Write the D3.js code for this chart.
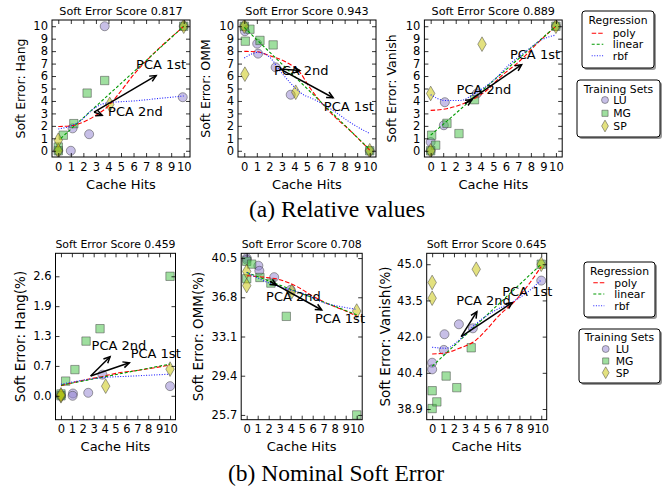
<!DOCTYPE html>
<html>
<head>
<meta charset="utf-8">
<script src="https://cdn.jsdelivr.net/npm/d3@7"></script>
<style>
  body { margin: 0; background: #fff; }
  svg { display: block; }
  text { font-family: "DejaVu Sans", sans-serif; fill: #000; }
  .caption { font-family: "Liberation Serif", "Times New Roman", serif; }
</style>
</head>
<body>
<svg id="fig" width="664" height="488"></svg>
<script>
// ---------- shared axis data ----------
const cacheHitTicks = [0, 1, 2, 3, 4, 5, 6, 7, 8, 9, 10];
const relTicks = [0, 1, 2, 3, 4, 5, 6, 7, 8, 9, 10];
const hangPctTicks = [0, 0.65, 1.3, 1.95, 2.6];
const hangPctLabels = ["0.0", "0.7", "1.3", "1.9", "2.6"];
const ommPctTicks = [25.7, 29.4, 33.1, 36.8, 40.5];
const ommPctLabels = ["25.7", "29.4", "33.1", "36.8", "40.5"];
const vanPctTicks = [38.9, 40.425, 41.95, 43.475, 45.0];
const vanPctLabels = ["38.9", "40.4", "42.0", "43.5", "45.0"];

const scores = ["0.817", "0.943", "0.889", "0.459", "0.708", "0.645"];
const yNames = ["Hang", "OMM", "Vanish", "Hang(%)", "OMM(%)", "Vanish(%)"];

// ---------- (a) relative values: training points [cache hits, soft error] ----------
const hangLU = [[3.7, 10], [9.92, 4.3], [2.46, 1.33], [1.14, 1.8], [1.0, 0], [0, 0], [10, 10]];
const hangMG = [[3.7, 5.64], [2.3, 4.63], [1.24, 2.18], [0.4, 1.25], [0, 0.3], [0, 0], [10, 10]];
const hangSP = [[4.1, 3.72], [0, 0.85], [0, 0], [10, 10]];

const ommLU = [[0.05, 9.6], [1.03, 8.6], [1.1, 7.8], [3.7, 4.5], [2.5, 6.7], [0, 10], [10, 0]];
const ommMG = [[0.45, 9.76], [0.08, 8.8], [1.25, 8.86], [2.3, 8.5], [0, 10], [10, 0]];
const ommSP = [[0.05, 6.15], [4.1, 4.7], [0, 10], [10, 0]];

const vanLU = [[0, 0.7], [1.13, 3.9], [1.05, 2.05], [3.7, 4.6], [0, 0], [10, 10]];
const vanMG = [[0.08, 1.25], [0.4, 0.45], [1.3, 2.2], [2.26, 1.38], [3.5, 4.1], [0, 0], [10, 10]];
const vanSP = [[0, 4.6], [4.1, 8.56], [0, 0], [10, 10]];

// ---------- (a) regression fits ----------
const hangPoly = [[0, 1.95], [1, 2.0], [2, 2.3], [3, 2.85], [4, 3.6], [5, 4.8], [6, 6.1], [7, 7.2], [8, 8.2], [9, 9.1], [10, 10]];
const hangLinear = [[0.2, 1.0], [10, 10]];
const hangRbf = [[0, 1.75], [1, 2.0], [2, 2.6], [2.5, 3.1], [3, 3.5], [3.5, 3.75], [4, 3.85], [6, 4.0], [8, 4.2], [10, 4.4]];

const ommPoly = [[0, 7.98], [1, 7.95], [2.04, 7.63], [3.37, 7.1], [4.43, 6.3], [5.2, 5.1], [6.0, 4.04], [7.08, 2.85], [8.4, 1.65], [10, 0.05]];
const ommLinear = [[0, 9.9], [10, 0.1]];
const ommRbf = [[0, 7.45], [1.1, 7.9], [2.04, 7.5], [2.84, 6.43], [3.63, 5.5], [4.43, 4.7], [5.76, 4.03], [7.08, 3.24], [8.4, 2.3], [10, 1.38]];

const vanPoly = [[0, 3.24], [1.28, 3.38], [2.6, 3.78], [3.67, 4.3], [4.47, 4.84], [5.53, 5.9], [7.13, 7.23], [8.72, 8.83], [10, 10]];
const vanLinear = [[0, 1.25], [10, 10]];
const vanRbf = [[0, 4.5], [1.14, 4.04], [2.34, 4.04], [3.67, 4.7], [5.0, 5.64], [6.33, 6.97], [7.66, 8.03], [8.72, 8.83], [10, 9.3]];

// ---------- (a) principal components: [origin, 1st end, 2nd end] ----------
const hangPCA = [[2.85, 3.1], [7.8, 6.04], [3.5, 2.85]];
const ommPCA = [[2.84, 6.57], [7.08, 4.26], [4.43, 6.44]];
const vanPCA = [[2.74, 3.78], [7.26, 6.91], [3.3, 4.1]];
// label anchors: [1st label, 2nd label]
const hangPCALabels = [[6.2, 6.57], [3.97, 2.77]];
const ommPCALabels = [[6.34, 3.16], [2.36, 6.12]];
const vanPCALabels = [[6.33, 7.37], [2.07, 4.57]];

// ---------- (b) nominal soft error: training points ----------
const hangPctLU = [[3.8, 0.46], [2.5, 0.065], [1.1, 0.05], [1.07, 0], [10, 0.21], [0, 0]];
const hangPctMG = [[10, 2.6], [3.58, 1.46], [2.3, 1.19], [1.28, 0.57], [0.43, 0.32], [0, 0.04], [0, 0]];
const hangPctSP = [[4.1, 0.21], [10, 0.58], [0, 0], [0, 0.02]];

const ommPctLU = [[0, 40.5], [1.06, 39.78], [1.15, 39.3], [2.5, 38.7], [4.0, 37.5], [0, 40.35]];
const ommPctMG = [[0, 40.2], [0.45, 39.93], [0, 38.55], [1.2, 38.67], [2.2, 38.14], [3.6, 35.0], [10, 25.7]];
const ommPctSP = [[0, 39.24], [0, 37.9], [4.1, 37.35], [10, 35.5]];

const vanPctLU = [[0, 40.85], [0, 40.57], [1.13, 42.05], [2.45, 42.47], [3.73, 42.3], [1.07, 41.39], [10, 44.31]];
const vanPctMG = [[0, 38.92], [0.43, 39.2], [0, 39.67], [1.28, 40.29], [2.26, 39.8], [3.58, 41.48], [10, 45]];
const vanPctSP = [[0, 44.23], [0, 43.57], [4.04, 44.79], [10, 45]];

// ---------- (b) regression fits ----------
const hangPctPoly = [[0, 0.22], [2.05, 0.34], [3.58, 0.41], [5.1, 0.49], [7.25, 0.56], [10, 0.67]];
const hangPctLinear = [[0, 0.23], [10, 0.69]];
const hangPctRbf = [[0, 0.25], [2.05, 0.34], [3.58, 0.39], [6.6, 0.43], [10, 0.47]];

const ommPctPoly = [[0, 38.83], [1.5, 38.7], [3.03, 38.45], [4.55, 37.82], [6.06, 36.88], [7.58, 36.09], [9.1, 35.46], [10, 35.02]];
const ommPctLinear = [[0, 39.15], [10, 35.15]];
const ommPctRbf = [[0, 39.15], [1.2, 38.52], [2.42, 37.98], [3.94, 37.5], [5.45, 37.04], [6.97, 36.31], [8.48, 35.93], [10, 35.66]];

const vanPctPoly = [[0, 41.22], [1.28, 41.27], [2.5, 41.46], [4.04, 41.81], [4.95, 42.23], [6.18, 42.86], [7.7, 43.5], [8.93, 44.2], [10, 44.9]];
const vanPctLinear = [[0, 40.7], [10, 45]];
const vanPctRbf = [[0, 41.5], [1.28, 41.46], [2.5, 41.81], [4.04, 42.5], [5.57, 43.0], [7.1, 43.35], [8.62, 43.78], [10, 44.34]];

// ---------- (b) principal components ----------
const hangPctPCA = [[2.72, 0.43], [6.27, 0.72], [4.5, 0.85]];
const ommPctPCA = [[2.12, 38.3], [6.82, 35.6], [2.7, 37.95]];
const vanPctPCA = [[2.66, 41.95], [7.34, 43.38], [4.1, 43.0]];
const hangPctPCALabels = [[6.39, 0.83], [2.81, 0.99]];
const ommPctPCALabels = [[6.2, 34.42], [1.76, 36.47]];
const vanPctPCALabels = [[6.42, 43.66], [2.2, 43.28]];

// ---------- styles ----------
const setStyle = {
  LU: { fill: "#9080d0", shape: d3.symbolCircle, size: 64 },
  MG: { fill: "#40c040", shape: d3.symbolSquare, size: 70 },
  SP: { fill: "#c8c400", shape: d3.symbolDiamond, size: 62 }
};
const fitStyle = {
  poly:   { color: "#ff0000", dash: "4.5,2" },
  linear: { color: "#009a00", dash: "3,2" },
  rbf:    { color: "#2020ff", dash: "1,1.6" }
};

const svg = d3.select("#fig");

function marker(sel, shape, size) {
  sel.attr("d", d3.symbol().type(shape).size(size));
}

function drawPanel(p, idx) {
  const x = d3.scaleLinear().domain([-0.5, 10.5]).range([p.L, p.R]);
  const y = d3.scaleLinear().domain(p.yDomain).range([p.B, p.T]);
  const g = svg.append("g");
  const clipId = "clip" + idx;
  g.append("clipPath").attr("id", clipId)
    .append("rect").attr("x", p.L).attr("y", p.T).attr("width", p.R - p.L).attr("height", p.B - p.T);

  const plot = g.append("g").attr("clip-path", `url(#${clipId})`);

  // training points
  [["LU", p.lu], ["MG", p.mg], ["SP", p.sp]].forEach(([key, pts]) => {
    const st = setStyle[key];
    plot.selectAll(null).data(pts).enter().append("path")
      .call(marker, st.shape, st.size)
      .attr("transform", d => `translate(${x(d[0])},${y(d[1])})`)
      .attr("fill", st.fill).attr("fill-opacity", 0.5)
      .attr("stroke", "#404040").attr("stroke-opacity", 0.55).attr("stroke-width", 0.9);
  });

  // regression fits
  const line = d3.line().x(d => x(d[0])).y(d => y(d[1])).curve(d3.curveMonotoneX);
  [["poly", p.poly], ["linear", p.linear], ["rbf", p.rbf]].forEach(([key, pts]) => {
    const st = fitStyle[key];
    plot.append("path").datum(pts).attr("d", line)
      .attr("fill", "none").attr("stroke", st.color).attr("stroke-width", 1.1)
      .attr("stroke-dasharray", st.dash);
  });

  // principal component arrows
  const [o, e1, e2] = p.pca;
  [e1, e2].forEach(e => {
    const x0 = x(o[0]), y0 = y(o[1]), x1 = x(e[0]), y1 = y(e[1]);
    const ang = Math.atan2(y1 - y0, x1 - x0);
    const hl = 7, hw = 0.45;
    g.append("line").attr("x1", x0).attr("y1", y0).attr("x2", x1).attr("y2", y1)
      .attr("stroke", "#000").attr("stroke-width", 1.5);
    g.append("path")
      .attr("d", `M${x1 - hl * Math.cos(ang - hw)},${y1 - hl * Math.sin(ang - hw)}L${x1},${y1}L${x1 - hl * Math.cos(ang + hw)},${y1 - hl * Math.sin(ang + hw)}`)
      .attr("fill", "none").attr("stroke", "#000").attr("stroke-width", 1.5);
  });
  const lbl = ["PCA 1st", "PCA 2nd"];
  p.pcaLabels.forEach((d, i) => {
    g.append("text").attr("x", x(d[0])).attr("y", y(d[1]))
      .attr("font-size", 13).text(lbl[i]);
  });

  // frame and inward ticks on all four sides
  const fs = p.tickFont;
  const bottom = d3.axisBottom(x).tickValues(cacheHitTicks).tickSize(-4).tickPadding(5.5);
  const top = d3.axisTop(x).tickValues(cacheHitTicks).tickSize(-4).tickFormat("");
  const left = d3.axisLeft(y).tickValues(p.yTicks).tickSize(-4).tickPadding(4)
    .tickFormat((d, i) => p.yLabels[i]);
  const right = d3.axisRight(y).tickValues(p.yTicks).tickSize(-4).tickFormat("");
  [[bottom, `translate(0,${p.B})`], [top, `translate(0,${p.T})`],
   [left, `translate(${p.L},0)`], [right, `translate(${p.R},0)`]].forEach(([ax, tr]) => {
    const a = g.append("g").attr("transform", tr).call(ax);
    a.select(".domain").remove();
    a.selectAll("line").attr("stroke", "#000").attr("stroke-width", 0.8);
    a.selectAll("text").attr("font-size", fs).attr("font-family", "DejaVu Sans").attr("fill", "#000");
  });
  g.append("rect").attr("x", p.L).attr("y", p.T).attr("width", p.R - p.L).attr("height", p.B - p.T)
    .attr("fill", "none").attr("stroke", "#000").attr("stroke-width", 1);

  // titles and axis labels
  const cx = (p.L + p.R) / 2, cy = (p.T + p.B) / 2;
  g.append("text").attr("x", cx).attr("y", p.T - 5).attr("text-anchor", "middle")
    .attr("font-size", p.titleFont).text("Soft Error Score " + p.score);
  g.append("text").attr("x", cx).attr("y", p.B + 31.5).attr("text-anchor", "middle")
    .attr("font-size", 13).text("Cache Hits");
  g.append("text").attr("transform", `translate(${p.L - p.yLabOff + 4.5},${cy}) rotate(-90)`)
    .attr("text-anchor", "middle").attr("font-size", p.yLabFont).text("Soft Error: " + p.yName);
}

const relYLabels = relTicks.map(String);
const panels = [
  { L: 52, R: 190, T: 20, B: 157, yDomain: [-0.5, 10.5], yTicks: relTicks, yLabels: relYLabels,
    lu: hangLU, mg: hangMG, sp: hangSP, poly: hangPoly, linear: hangLinear, rbf: hangRbf,
    pca: hangPCA, pcaLabels: hangPCALabels, yLabOff: 32, yLabFont: 12.5, tickFont: 11.5, titleFont: 11.2 },
  { L: 238, R: 376, T: 20, B: 157, yDomain: [-0.5, 10.5], yTicks: relTicks, yLabels: relYLabels,
    lu: ommLU, mg: ommMG, sp: ommSP, poly: ommPoly, linear: ommLinear, rbf: ommRbf,
    pca: ommPCA, pcaLabels: ommPCALabels, yLabOff: 33, yLabFont: 12.5, tickFont: 11.5, titleFont: 11.2 },
  { L: 424.4, R: 562.2, T: 20, B: 157, yDomain: [-0.5, 10.5], yTicks: relTicks, yLabels: relYLabels,
    lu: vanLU, mg: vanMG, sp: vanSP, poly: vanPoly, linear: vanLinear, rbf: vanRbf,
    pca: vanPCA, pcaLabels: vanPCALabels, yLabOff: 32.7, yLabFont: 12.5, tickFont: 11.5, titleFont: 11.2 },
  { L: 55.5, R: 175.5, T: 253.3, B: 419.7, yDomain: [-0.52, 3.1], yTicks: hangPctTicks, yLabels: hangPctLabels,
    lu: hangPctLU, mg: hangPctMG, sp: hangPctSP, poly: hangPctPoly, linear: hangPctLinear, rbf: hangPctRbf,
    pca: hangPctPCA, pcaLabels: hangPctPCALabels, yLabOff: 35.5, yLabFont: 13.5, tickFont: 11.5, titleFont: 10.9 },
  { L: 241.2, R: 362.2, T: 253.3, B: 419.7, yDomain: [25.25, 40.95], yTicks: ommPctTicks, yLabels: ommPctLabels,
    lu: ommPctLU, mg: ommPctMG, sp: ommPctSP, poly: ommPctPoly, linear: ommPctLinear, rbf: ommPctRbf,
    pca: ommPctPCA, pcaLabels: ommPctPCALabels, yLabOff: 43, yLabFont: 13.5, tickFont: 11.5, titleFont: 10.9 },
  { L: 426.7, R: 546.7, T: 253.3, B: 419.7, yDomain: [38.45, 45.46], yTicks: vanPctTicks, yLabels: vanPctLabels,
    lu: vanPctLU, mg: vanPctMG, sp: vanPctSP, poly: vanPctPoly, linear: vanPctLinear, rbf: vanPctRbf,
    pca: vanPctPCA, pcaLabels: vanPctPCALabels, yLabOff: 41.7, yLabFont: 13.5, tickFont: 11.5, titleFont: 10.9 }
];
panels.forEach((p, i) => { p.score = scores[i]; p.yName = yNames[i]; drawPanel(p, i); });

// ---------- legends ----------
const regressionKeys = ["poly", "linear", "rbf"];
const trainingKeys = ["LU", "MG", "SP"];

function legendBox(b) {
  svg.append("rect").attr("x", b.x + 2).attr("y", b.y + 2).attr("width", b.w).attr("height", b.h)
    .attr("rx", 3).attr("fill", "#9a9a9a");
  svg.append("rect").attr("x", b.x).attr("y", b.y).attr("width", b.w).attr("height", b.h)
    .attr("rx", 3).attr("fill", "#fff").attr("stroke", "#000").attr("stroke-width", 1);
  svg.append("text").attr("x", b.x + b.w / 2).attr("y", b.titleY).attr("text-anchor", "middle")
    .attr("font-size", 10.8).text(b.title);
}

function regressionLegend(b) {
  legendBox(Object.assign({ title: "Regression" }, b));
  regressionKeys.forEach((k, i) => {
    const yy = b.rows[i];
    svg.append("line").attr("x1", b.lx0).attr("x2", b.lx1).attr("y1", yy).attr("y2", yy)
      .attr("stroke", fitStyle[k].color).attr("stroke-width", 1.1).attr("stroke-dasharray", fitStyle[k].dash);
    svg.append("text").attr("x", b.tx).attr("y", yy + 4).attr("font-size", 10.8).text(k);
  });
}

function trainingLegend(b) {
  legendBox(Object.assign({ title: "Training Sets" }, b));
  trainingKeys.forEach((k, i) => {
    const yy = b.rows[i], st = setStyle[k];
    svg.append("path").call(marker, st.shape, k === "SP" ? 40 : 38)
      .attr("transform", `translate(${b.mx},${yy})`)
      .attr("fill", st.fill).attr("fill-opacity", 0.5)
      .attr("stroke", "#404040").attr("stroke-opacity", 0.55).attr("stroke-width", 0.9);
    svg.append("text").attr("x", b.tx).attr("y", yy + 4).attr("font-size", 10.8).text(k);
  });
}

regressionLegend({ x: 582, y: 11, w: 72, h: 57, titleY: 24, rows: [33.3, 44.3, 55.7], lx0: 591.7, lx1: 603.3, tx: 612.7 });
trainingLegend({ x: 577, y: 80, w: 83, h: 57, titleY: 92.7, rows: [100, 113.3, 126], mx: 605, tx: 613.3 });
regressionLegend({ x: 584, y: 262, w: 71, h: 55, titleY: 275, rows: [282.7, 294, 305.7], lx0: 593.3, lx1: 604.3, tx: 614.3 });
trainingLegend({ x: 579, y: 329, w: 81, h: 54, titleY: 340.7, rows: [349, 361, 372.7], mx: 605.7, tx: 615.7 });

// ---------- sub-figure captions ----------
svg.append("text").attr("class", "caption").attr("x", 249).attr("y", 217)
  .attr("font-size", 23.5).text("(a) Relative values");
svg.append("text").attr("class", "caption").attr("x", 228).attr("y", 481)
  .attr("font-size", 23.5).text("(b) Nominal Soft Error");
</script>
</body>
</html>
